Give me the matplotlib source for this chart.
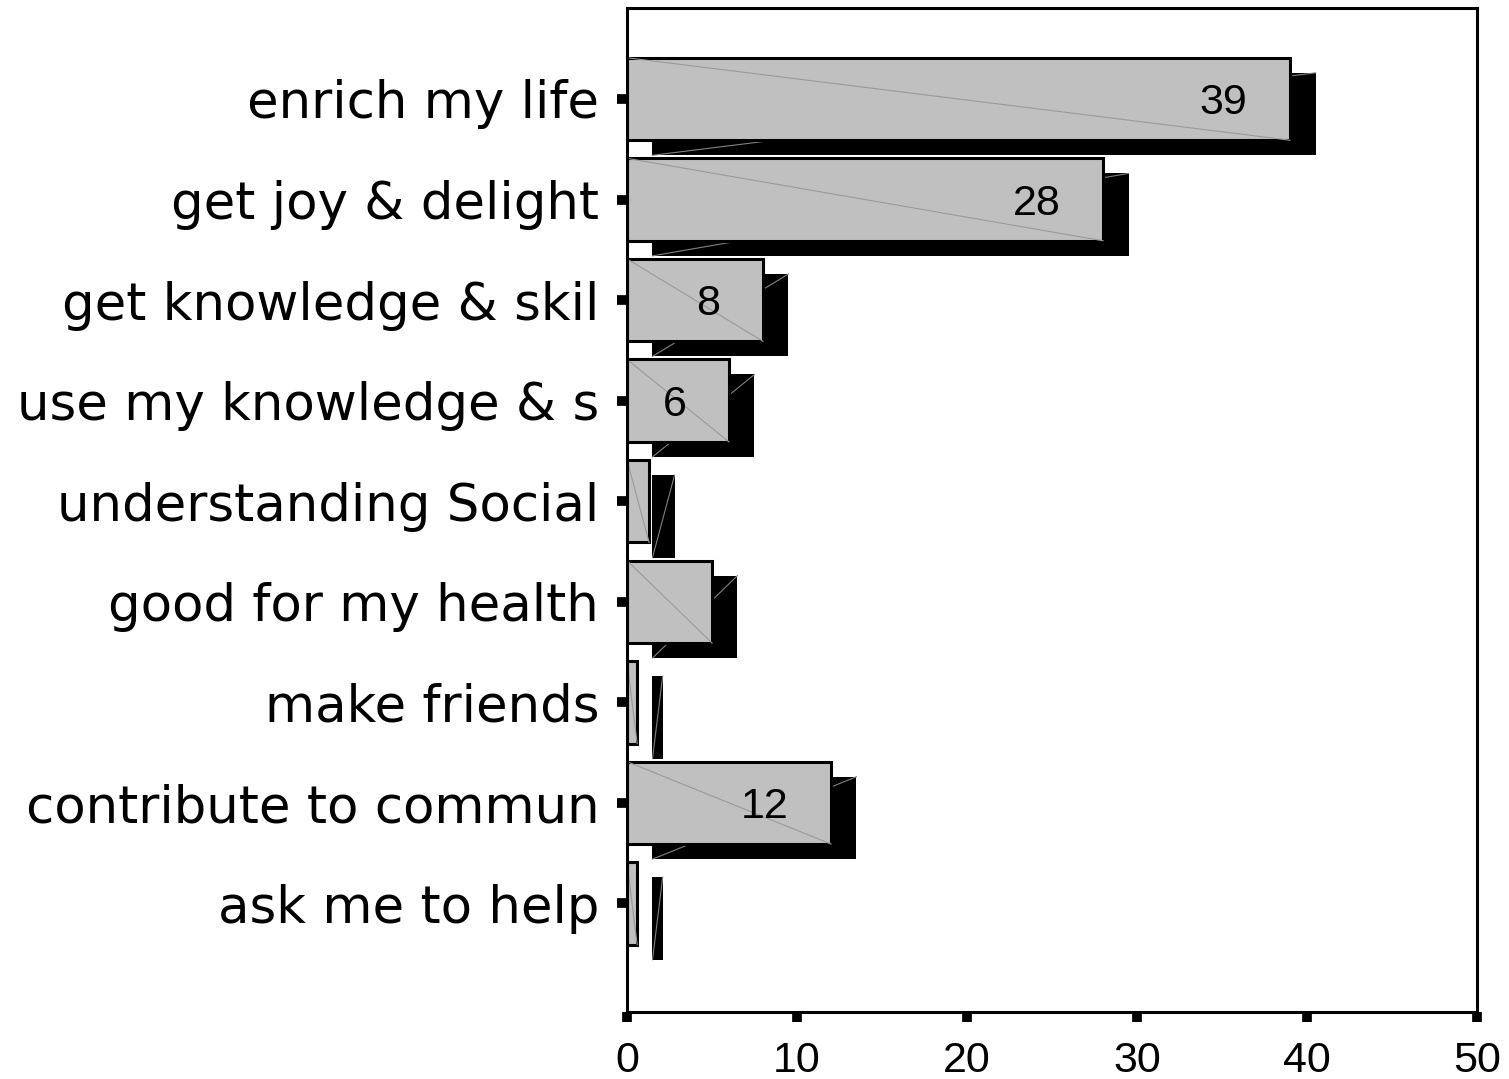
import matplotlib.pyplot as plt
import matplotlib.transforms as mtransforms

categories = ['enrich my life', 'get joy & delight', 'get knowledge & skil',
              'use my knowledge & s', 'understanding Social', 'good for my health',
              'make friends', 'contribute to commun', 'ask me to help']
values = [39, 28, 8, 6, 1.3, 5, 0.6, 12, 0.6]
shown_labels = ['39', '28', '8', '6', '', '', '', '12', '']

fig = plt.figure(figsize=(15.09, 10.79), dpi=100)
ax = fig.add_axes([0.4155, 0.0621, 0.5633, 0.9305])

ypos = list(range(len(categories)))
h = 0.82
dx, dy = 1.5, 0.15   # drop-shadow offset

# shadow bars
ax.barh([y + dy for y in ypos], values, height=h, left=dx, color='black',
        linewidth=0, zorder=1)
for y, v in zip(ypos, values):
    ax.plot([dx, dx + v], [y + dy + h / 2, y + dy - h / 2], color='#808080',
            lw=0.8, zorder=1.5)

# front bars
ax.barh(ypos, values, height=h, color='#c0c0c0', edgecolor='black',
        linewidth=2.2, zorder=2)
for y, v in zip(ypos, values):
    ax.plot([0, v], [y - h / 2, y + h / 2], color='#9a9a9a', lw=0.8, zorder=2.5)

for y, v, lab in zip(ypos, values, shown_labels):
    if lab:
        ax.text(v - 2.5, y + 0.04, lab, ha='right', va='center',
                fontsize=31, family='Liberation Sans', zorder=3)

ax.set_xlim(0, 50)
ax.set_ylim(9.08, -0.905)
ax.set_xticks(range(0, 51, 10))
ax.set_yticks(ypos)
ax.set_yticklabels(categories, fontsize=37, family='DejaVu Sans')
# nudge category labels up a little
lift = mtransforms.ScaledTranslation(0, 3 / 72, fig.dpi_scale_trans)
for t in ax.get_yticklabels():
    t.set_transform(t.get_transform() + lift)
for t in ax.get_xticklabels():
    t.set_family('Liberation Sans')
    t.set_fontsize(31)

ax.tick_params(axis='y', length=7, width=7, pad=13)
ax.tick_params(axis='x', length=7, width=7, pad=14)
for s in ax.spines.values():
    s.set_linewidth(2.2)

fig.savefig('out.png', dpi=100)
